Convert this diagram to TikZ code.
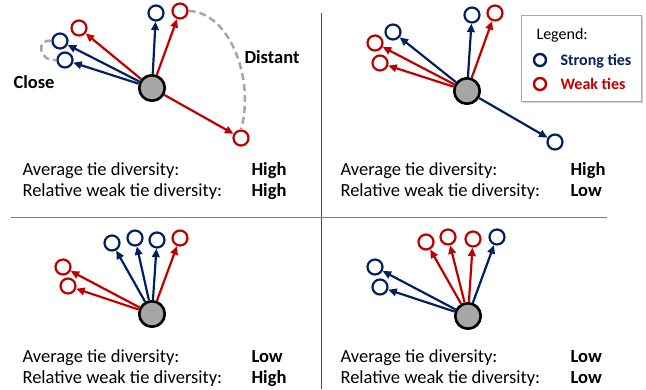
\documentclass[tikz,border=0pt]{standalone}
\usepackage{fontspec}
\setmainfont{Carlito}
\usetikzlibrary{arrows.meta,shadows}
\definecolor{strongblue}{RGB}{0,32,96}
\definecolor{weakred}{RGB}{192,0,0}
\definecolor{egogray}{RGB}{166,166,166}
\begin{document}
\begin{tikzpicture}[x=1pt,y=-1pt,
		ego/.style={circle,draw=black,fill=egogray,line width=2.6pt,minimum size=25.5pt,inner sep=0pt},
		alter/.style={circle,fill=white,line width=2.2pt,minimum size=15pt,inner sep=0pt},
		strong/.style={alter,draw=strongblue},
		weak/.style={alter,draw=weakred},
		tie/.style={line width=2.2pt,-{Triangle[length=8.5pt,width=7.5pt]}},
		strongtie/.style={tie,strongblue},
		weaktie/.style={tie,weakred},
		txt/.style={anchor=base west,font=\fontsize{18.5}{22}\selectfont},
		boldtxt/.style={txt,font=\fontsize{18.5}{22}\selectfont\bfseries},
		legtxt/.style={anchor=base west,font=\fontsize{16}{19}\selectfont},
		reach/.style={draw=egogray,line width=2.5pt,dash pattern=on 7pt off 4pt}]
	
	\useasboundingbox (0,0) rectangle (646,389);
	
	% dividers
	\draw[gray!60!black,line width=0.8pt] (321,13) -- (321,389);
	\draw[gray,line width=0.8pt] (11,217) -- (607,217);
	
	% panel 1: high / high
	\node[ego] (c1) at (152,88) {};
	\node[strong] (a11) at (60,41) {};
	\node[strong] (a12) at (65,60) {};
	\node[weak] (a13) at (79,28) {};
	\node[strong] (a14) at (156,13) {};
	\node[weak] (a15) at (180,11) {};
	\node[weak] (a16) at (241,138) {};
	\draw[strongtie] (c1) -- (a11);
	\draw[strongtie] (c1) -- (a12);
	\draw[weaktie] (c1) -- (a13);
	\draw[strongtie] (c1) -- (a14);
	\draw[weaktie] (c1) -- (a15);
	\draw[weaktie] (c1) -- (a16);
	\draw[reach] (a15.east) .. controls (230,12) and (255,80) .. (a16.north);
	\draw[reach] (a11.west) .. controls (36,38) and (38,62) .. (a12.west);
	\node[boldtxt] (close) at (10,88) {Close};
	\node[boldtxt] (distant) at (241,63) {Distant};
	\node[txt] (avg1) at (19,175) {Average tie diversity:};
	\node[txt] (rel1) at (19,196) {Relative weak tie diversity:};
	\node[boldtxt] (avgv1) at (248,175) {High};
	\node[boldtxt] (relv1) at (248,196) {High};
	
	% panel 2: high / low
	\node[ego] (c2) at (467,91) {};
	\node[weak] (a21) at (375,43) {};
	\node[weak] (a22) at (380,63) {};
	\node[strong] (a23) at (393,32) {};
	\node[strong] (a24) at (472,15) {};
	\node[weak] (a25) at (495,13) {};
	\node[strong] (a26) at (555,142) {};
	\draw[weaktie] (c2) -- (a21);
	\draw[weaktie] (c2) -- (a22);
	\draw[strongtie] (c2) -- (a23);
	\draw[strongtie] (c2) -- (a24);
	\draw[weaktie] (c2) -- (a25);
	\draw[strongtie] (c2) -- (a26);
	\node[txt] (avg2) at (337,175) {Average tie diversity:};
	\node[txt] (rel2) at (337,196) {Relative weak tie diversity:};
	\node[boldtxt] (avgv2) at (567,175) {High};
	\node[boldtxt] (relv2) at (567,196) {Low};
	
	% legend
	\node[draw=gray!70,fill=white,line width=0.8pt,minimum width=120pt,minimum height=86pt,
		drop shadow={shadow xshift=1.5pt,shadow yshift=-1.5pt,opacity=0.35}] (legend) at (581,58) {};
	\node[legtxt] (legtitle) at (533,39) {Legend:};
	\node[strong,minimum size=12pt,line width=2.4pt] (legs) at (540,60) {};
	\node[weak,minimum size=12pt,line width=2.4pt] (legw) at (540,84) {};
	\node[legtxt,font=\fontsize{16}{19}\selectfont\bfseries,text=strongblue] (legstxt) at (557,65) {Strong ties};
	\node[legtxt,font=\fontsize{16}{19}\selectfont\bfseries,text=weakred] (legwtxt) at (557,89) {Weak ties};
	
	% panel 3: low / high
	\node[ego] (c3) at (152,314) {};
	\node[weak] (a31) at (63,267) {};
	\node[weak] (a32) at (68,286) {};
	\node[strong] (a33) at (112,243) {};
	\node[strong] (a34) at (135,238) {};
	\node[strong] (a35) at (157,240) {};
	\node[weak] (a36) at (180,238) {};
	\draw[weaktie] (c3) -- (a31);
	\draw[weaktie] (c3) -- (a32);
	\draw[strongtie] (c3) -- (a33);
	\draw[strongtie] (c3) -- (a34);
	\draw[strongtie] (c3) -- (a35);
	\draw[weaktie] (c3) -- (a36);
	\node[txt] (avg3) at (19,362) {Average tie diversity:};
	\node[txt] (rel3) at (19,383) {Relative weak tie diversity:};
	\node[boldtxt] (avgv3) at (248,362) {Low};
	\node[boldtxt] (relv3) at (248,383) {High};
	
	% panel 4: low / low
	\node[ego] (c4) at (468,316) {};
	\node[strong] (a41) at (375,267) {};
	\node[strong] (a42) at (380,287) {};
	\node[weak] (a43) at (426,242) {};
	\node[weak] (a44) at (448,237) {};
	\node[weak] (a45) at (473,239) {};
	\node[strong] (a46) at (497,237) {};
	\draw[strongtie] (c4) -- (a41);
	\draw[strongtie] (c4) -- (a42);
	\draw[weaktie] (c4) -- (a43);
	\draw[weaktie] (c4) -- (a44);
	\draw[weaktie] (c4) -- (a45);
	\draw[strongtie] (c4) -- (a46);
	\node[txt] (avg4) at (337,362) {Average tie diversity:};
	\node[txt] (rel4) at (337,383) {Relative weak tie diversity:};
	\node[boldtxt] (avgv4) at (567,362) {Low};
	\node[boldtxt] (relv4) at (567,383) {Low};
	
\end{tikzpicture}
\end{document}
